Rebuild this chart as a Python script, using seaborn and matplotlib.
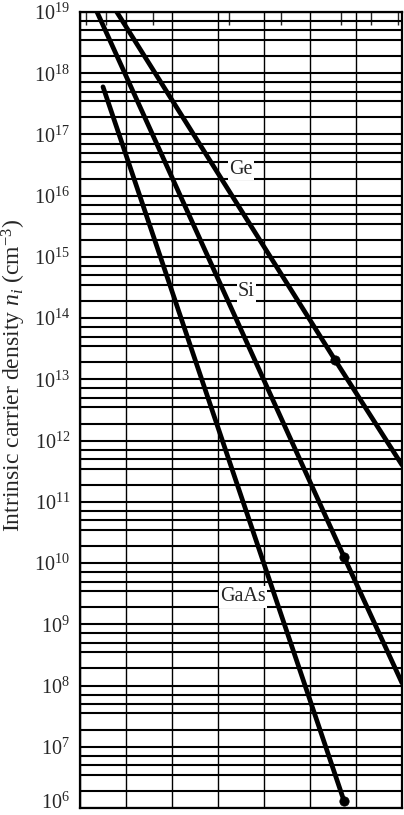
import numpy as np
import pandas as pd
import matplotlib
matplotlib.use("Agg")
import matplotlib.pyplot as plt
import matplotlib.ticker as mticker
import matplotlib.transforms as mtransforms
import seaborn as sns

# Values (x = 1000/T in 1/K, y = n_i in cm^-3)
ge_x = [0.90, 3.27, 4.00]
ge_n = [1.0e19, 2.1e13, 4.0e11]
si_x = [0.685, 3.37, 4.00]
si_n = [1.0e19, 1.26e10, 1.1e8]
gaas_x = [0.75, 3.37]
gaas_n = [6.0e17, 1.3e6]

# 300 K markers
dot_material = ["Ge", "Si", "GaAs"]
dot_x = [3.27, 3.37, 3.37]
dot_n = [2.1e13, 1.26e10, 1.3e6]

# curve labels (position in data coords)
label_text = ["Ge", "Si", "GaAs"]
label_x = [2.25, 2.31, 2.27]
label_n = [2.7e16, 2.7e14, 2.8e9]

# y ticks and top axis temperatures (deg C)
y_ticks = [10.0 ** k for k in range(6, 20)]
top_ticks_c = [1500, 1000, 500, 200, 100, 27, 0, -20]

df = pd.concat([
    pd.DataFrame({"material": "Ge", "inv_T": ge_x, "ni": ge_n}),
    pd.DataFrame({"material": "Si", "inv_T": si_x, "ni": si_n}),
    pd.DataFrame({"material": "GaAs", "inv_T": gaas_x, "ni": gaas_n}),
], ignore_index=True)
dots = pd.DataFrame({"material": dot_material, "inv_T": dot_x, "ni": dot_n})

sns.set_style("white")
plt.rcParams["font.family"] = ["Liberation Serif", "DejaVu Serif"]
plt.rcParams["mathtext.fontset"] = "custom"
plt.rcParams["mathtext.rm"] = "Liberation Serif"
plt.rcParams["mathtext.it"] = "Liberation Serif:italic"

fig = plt.figure(figsize=(4.04, 8.15), dpi=100)
ax = fig.add_axes([80 / 404, 7 / 815, 322 / 404, 796 / 815])

palette = {"Ge": "black", "Si": "black", "GaAs": "black"}
sns.lineplot(data=df, x="inv_T", y="ni", hue="material", palette=palette,
             estimator=None, sort=False, linewidth=3.4, legend=False, ax=ax)
sns.scatterplot(data=dots, x="inv_T", y="ni", color="black", s=45,
                edgecolor="black", legend=False, ax=ax, zorder=5)

ax.set_yscale("log")
ax.set_xlim(0.5, 4.0)
ax.set_ylim(1e6, 1e19)

# grid
ax.set_xticks(np.arange(0.5, 4.01, 0.5))
ax.yaxis.set_major_locator(mticker.FixedLocator(y_ticks))
ax.yaxis.set_minor_locator(mticker.LogLocator(base=10, subs=(1.9, 3.5, 5.0, 7.1), numticks=20))
ax.yaxis.set_major_formatter(mticker.LogFormatterMathtext())
ax.yaxis.set_minor_formatter(mticker.NullFormatter())
ax.grid(True, axis="x", which="major", color="black", linewidth=1.0)
ax.grid(True, axis="y", which="both", color="black", linewidth=1.5)
ax.set_axisbelow(True)

ax.tick_params(axis="x", which="both", bottom=False, labelbottom=False)
ax.tick_params(axis="y", which="both", length=0, pad=7, labelsize=14.5)
for s in ax.spines.values():
    s.set_color("black")
    s.set_linewidth(1.6)

ax.set_xlabel("")
ax.set_ylabel(r"Intrinsic carrier density $n_i$ (cm$^{-3}$)", fontsize=17, va="center")
ax.yaxis.set_label_coords(-0.205, 0.543)


# top temperature axis: only the tick marks are in the cropped picture
def inv_to_c(x):
    x = np.asarray(x, dtype=float)
    with np.errstate(divide="ignore", invalid="ignore"):
        return 1000.0 / x - 273.0


def c_to_inv(c):
    c = np.asarray(c, dtype=float)
    with np.errstate(divide="ignore", invalid="ignore"):
        return 1000.0 / (c + 273.0)


top = ax.secondary_xaxis("top", functions=(inv_to_c, c_to_inv))
top.set_xticks(top_ticks_c)
top.tick_params(direction="in", length=9, width=1.0, labeltop=False)
top.xaxis.set_minor_locator(mticker.NullLocator())

for t, x, n in zip(label_text, label_x, label_n):
    ax.text(x, n, t, fontsize=14.5, ha="center", va="center",
            bbox=dict(facecolor="white", edgecolor="none", pad=1.0), zorder=4)

# nudge the bottom tick label up so it stays inside the figure
fig.canvas.draw()
first = ax.yaxis.get_major_ticks()[0].label1
first.set_transform(first.get_transform()
                    + mtransforms.ScaledTranslation(0, 5 / 72, fig.dpi_scale_trans))

plt.savefig("out.png", dpi=100)
plt.close()
